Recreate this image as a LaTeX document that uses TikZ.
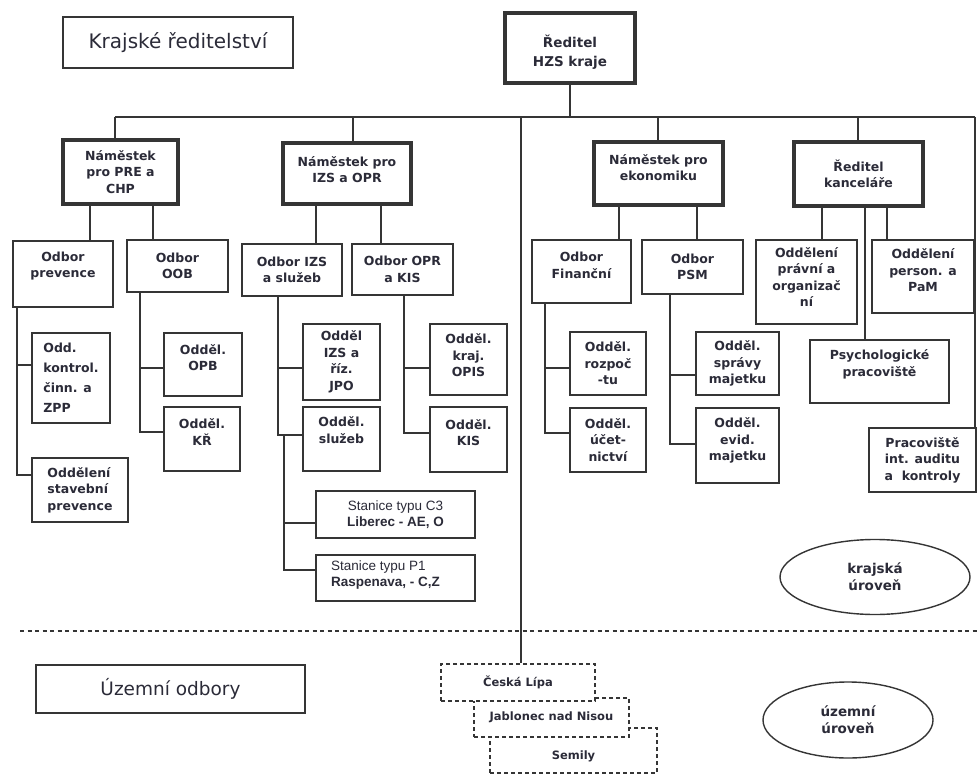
\documentclass[tikz,border=0pt]{standalone}
\usepackage{fontspec}
\setmainfont{DejaVu Sans}
\newfontfamily\lib{Liberation Sans}
\usetikzlibrary{shapes.geometric,calc}
\definecolor{ink}{HTML}{2B2B38}
\definecolor{lnc}{HTML}{353535}
\tikzset{
  thk/.style={draw=lnc, line width=3.5pt, fill=white},
  mid/.style={draw=lnc, line width=2pt, fill=white},
  thin/.style={draw=lnc, line width=1.5pt, fill=white},
  dsh/.style={draw=lnc, line width=1.2pt, dash pattern=on 4pt off 3pt, fill=white},
  ln/.style={draw=lnc, line width=1.3pt},
  divline/.style={draw=lnc, line width=1.2pt, dash pattern=on 4pt off 3.5pt},
  lt/.style={align=center, inner sep=0pt, text=ink, font=\bfseries\fontsize{12.5}{16.5}\selectfont},
  ell/.style={ellipse, draw=lnc, line width=1.4pt, fill=white, align=center, inner sep=0pt, text=ink, font=\bfseries\fontsize{13.5}{17}\selectfont},
  title/.style={draw=lnc, line width=1.6pt, fill=white, text=ink, inner sep=0pt}
}
\newcommand\bx[8]{\node[#2, minimum width=#5pt, minimum height=#6pt, label={[lt,#7]center:{#8}}] (#1) at (#3,#4) {};}
\begin{document}
\begin{tikzpicture}[x=1pt,y=-1pt]
\fill[white] (0,0) rectangle (979,775);
\useasboundingbox (0,0) rectangle (979,775);

% titles
\node[title, minimum width=230pt, minimum height=51pt, font=\fontsize{20}{24}\selectfont] (krajske) at (178,42.5) {Krajské ředitelství};
\node[title, minimum width=269pt, minimum height=48pt, font=\fontsize{18.5}{22}\selectfont] (uzemni) at (170.5,689) {Územní odbory};

% top level
\bx{ceo}{thk}{570}{48}{130}{70}{yshift=-4pt,font=\bfseries\fontsize{13.5}{19}\selectfont}{Ředitel\\HZS kraje}
\bx{nA}{thk}{120.5}{172}{115}{64}{}{Náměstek\\pro PRE a\\CHP}
\bx{nB}{thk}{347}{173.5}{128}{61}{yshift=4pt}{Náměstek pro\\IZS a OPR}
\bx{nC}{thk}{658.5}{173.5}{129}{63}{yshift=6pt}{Náměstek pro\\ekonomiku}
\bx{nD}{thk}{858.5}{174}{129}{64}{}{Ředitel\\kanceláře}

% level 2
\bx{prev}{mid}{63}{274}{100}{66}{yshift=8pt}{Odbor\\prevence}
\bx{oob}{mid}{177.5}{266}{101}{52}{}{Odbor\\OOB}
\bx{izs}{mid}{292}{270}{100}{52}{}{Odbor IZS\\a služeb}
\bx{opr}{mid}{402.5}{269.5}{101}{51}{}{Odbor OPR\\a KIS}
\bx{fin}{mid}{581.5}{271.5}{99}{63}{yshift=6pt}{Odbor\\Finanční}
\bx{psm}{mid}{692.5}{267}{101}{54}{}{Odbor\\PSM}
\bx{prav}{mid}{806.5}{282}{101}{84}{yshift=5pt}{Oddělení\\právní a\\organizač\\ní}
\bx{pam}{mid}{923}{276.5}{102}{73}{yshift=6pt}{Oddělení\\person. a\\PaM}

% level 3
\bx{kontrol}{thin}{71}{378}{78}{90}{align=left,font=\bfseries\fontsize{12.5}{20}\selectfont}{Odd.\\kontrol.\\činn. a\\ZPP}
\bx{stav}{thin}{80}{490}{96}{64}{align=left}{Oddělení\\stavební\\prevence}
\bx{opb}{thin}{203}{364.5}{78}{63}{yshift=7pt}{Odděl.\\OPB}
\bx{kr}{thin}{202}{439}{76}{64}{yshift=7pt}{Odděl.\\KŘ}
\bx{jpo}{thin}{341.5}{362}{77}{76}{}{Odděl\\IZS a\\říz.\\JPO}
\bx{sluz}{thin}{341.5}{439}{77}{64}{yshift=9pt}{Odděl.\\služeb}
\bx{opis}{thin}{468.5}{359.5}{77}{71}{yshift=4pt}{Odděl.\\kraj.\\OPIS}
\bx{kis}{thin}{468.5}{439.5}{77}{65}{yshift=7pt}{Odděl.\\KIS}
\bx{c3}{thin}{395.5}{514.5}{159}{47}{font=\lib\fontsize{13.5}{16}\selectfont}{Stanice typu C3\\\textbf{Liberec - AE, O}}
\bx{p1}{thin}{395.5}{578}{159}{46}{yshift=3pt,xshift=-10pt,align=left,font=\lib\fontsize{13.5}{16}\selectfont}{Stanice typu P1\\\textbf{Raspenava, - C,Z}}
\bx{rozp}{thin}{608}{363.5}{76}{63}{}{Odděl.\\rozpoč\\-tu}
\bx{ucet}{thin}{608}{440}{76}{64}{}{Odděl.\\účet-\\nictví}
\bx{sprav}{thin}{737.5}{363.5}{83}{63}{}{Odděl.\\správy\\majetku}
\bx{evid}{thin}{737.5}{445.5}{83}{75}{yshift=5pt}{Odděl.\\evid.\\majetku}
\bx{psych}{thin}{879.5}{371.5}{139}{63}{yshift=7pt}{Psychologické\\pracoviště}
\bx{audit}{thin}{922.5}{460}{107}{64}{}{Pracoviště\\int. auditu\\a~~kontroly}

% level ellipses
\node[ell, minimum width=190pt, minimum height=75pt] (ek) at (875,577) {krajská\\úroveň};
\node[ell, minimum width=170pt, minimum height=76pt] (eu) at (848,720) {územní\\úroveň};

% territorial departments
\bx{semily}{dsh}{573.5}{750.5}{167}{45}{yshift=-6pt,font=\bfseries\fontsize{11.5}{14}\selectfont}{Semily}
\bx{jablonec}{dsh}{551.5}{717.5}{155}{39}{font=\bfseries\fontsize{11.5}{14}\selectfont}{Jablonec nad Nisou}
\bx{lipa}{dsh}{518}{682.5}{154}{37}{font=\bfseries\fontsize{11.5}{14}\selectfont}{Česká Lípa}

% divider
\coordinate (dvL) at (20,631);
\coordinate (dvR) at (979,631);
\draw[divline] (dvL) -- (dvR);

% main bus
\coordinate (busL) at (115,117);
\coordinate (busR) at (975,117);
\draw[ln] (busL) -- (busR);
\draw[ln] (ceo.south) -- (ceo.south |- busL);
\draw[ln] (busL) -- (nA.north -| busL);
\draw[ln] (busL -| 353,0) -- (nB.north -| 353,0);
\draw[ln] (busL -| 521,0) -- (lipa.north -| 521,0);
\draw[ln] (busL -| 658,0) -- (nC.north -| 658,0);
\draw[ln] (busL -| 858,0) -- (nD.north -| 858,0);
\draw[ln] (busR) -- (audit.north -| busR);

% level 2 connectors
\draw[ln] (nA.south -| 90,0) -- (prev.north -| 90,0);
\draw[ln] (nA.south -| 153,0) -- (oob.north -| 153,0);
\draw[ln] (nB.south -| 316,0) -- (izs.north -| 316,0);
\draw[ln] (nB.south -| 381,0) -- (opr.north -| 381,0);
\draw[ln] (nC.south -| 619,0) -- (fin.north -| 619,0);
\draw[ln] (nC.south -| 697,0) -- (psm.north -| 697,0);
\draw[ln] (nD.south -| 822,0) -- (prav.north -| 822,0);
\draw[ln] (nD.south -| 865,0) -- (psych.north -| 865,0);
\draw[ln] (nD.south -| 887,0) -- (pam.north -| 887,0);

% level 3 connectors
\draw[ln] (prev.south -| 17,0) |- ([yshift=13pt]kontrol.west);
\draw[ln] (prev.south -| 17,0) |- ([yshift=15pt]stav.west);
\draw[ln] (oob.south -| 140,0) |- ([yshift=-3.5pt]opb.west);
\draw[ln] (oob.south -| 140,0) |- ([yshift=7pt]kr.west);
\draw[ln] (izs.south -| 278,0) |- ([yshift=-6pt]jpo.west);
\draw[ln] (izs.south -| 278,0) |- ([yshift=4pt]sluz.west);
\draw[ln] ([yshift=4pt]sluz.west -| 284,0) |- ([yshift=-8.5pt]c3.west);
\draw[ln] ([yshift=4pt]sluz.west -| 284,0) |- ([yshift=8pt]p1.west);
\draw[ln] (opr.south -| 404,0) |- ([yshift=-8.5pt]opis.west);
\draw[ln] (opr.south -| 404,0) |- ([yshift=6.5pt]kis.west);
\draw[ln] (fin.south -| 545,0) |- ([yshift=-4.5pt]rozp.west);
\draw[ln] (fin.south -| 545,0) |- ([yshift=7pt]ucet.west);
\draw[ln] (psm.south -| 670,0) |- ([yshift=-11.5pt]sprav.west);
\draw[ln] (psm.south -| 670,0) |- ([yshift=1.5pt]evid.west);
\end{tikzpicture}
\end{document}
